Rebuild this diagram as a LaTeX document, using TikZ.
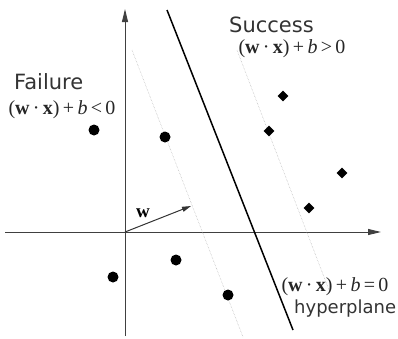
\documentclass[tikz,border=0pt]{standalone}
\usepackage{fontspec}
\setsansfont{DejaVu Sans}
\newfontfamily\rulefont{Liberation Serif}
\usetikzlibrary{shapes.geometric,arrows.meta}

\newcommand{\wx}[2]{(\textbf{w}\,·\,\textbf{x})\,+\,\textit{b}\,#1\,#2}

\tikzset{
  dot/.style={circle, fill=black, inner sep=0pt, minimum size=11pt},
  gem/.style={diamond, fill=black, inner sep=0pt, minimum size=11pt},
  margin/.style={gray!60, line width=0.5pt, densely dotted},
  axis/.style={line width=1pt, black!75, -{Triangle[length=13pt,width=6pt]}},
  word/.style={font=\sffamily\fontsize{21}{24}\selectfont, text=black!80, inner sep=0pt, anchor=base west},
  rule/.style={font=\rulefont\fontsize{20}{22}\selectfont, text=black!85, inner sep=0pt}
}

\begin{document}
\begin{tikzpicture}[x=1pt, y=-1pt]
    \useasboundingbox (0,0) rectangle (398,338);
    % Axes
    \coordinate (O) at (125,232);
    \coordinate (xl) at (5,232);
    \coordinate (xr) at (381,232);
    \coordinate (yb) at (125,336);
    \coordinate (yt) at (125,9);
    \draw[axis] (xl) -- (xr);
    \draw[axis] (yb) -- (yt);
    % Margins and hyperplane
    \coordinate (m1a) at (132,50);
    \coordinate (m1b) at (243,337);
    \coordinate (m2a) at (237,50);
    \coordinate (m2b) at (329,290);
    \draw[margin] (m1a) -- (m1b);
    \draw[margin] (m2a) -- (m2b);
    \coordinate (h1) at (167,10);
    \coordinate (h2) at (293,330);
    \draw[line width=1.5pt] (h1) -- (h2);
    % Normal vector
    \coordinate (wt) at (191,206);
    \draw[line width=1pt, black!80, -{Triangle[length=9pt,width=5pt]}] (O) -- (wt);
    \node[font=\rulefont\fontsize{19}{22}\selectfont\bfseries] (wlbl) at (143,213) {w};
    % Points
    \foreach \x/\y [count=\i] in {94/130, 165/137, 113/277, 176/260, 228/295}{
        \node[dot] (f\i) at (\x,\y) {};
    }
    \foreach \x/\y [count=\i] in {283/96, 269/131, 342/173, 309/208}{
        \node[gem] (s\i) at (\x,\y) {};
    }
    % Labels
    \node[word] (fail) at (14,89) {Failure};
    \node[rule] (failrule) at (62,110) {\wx{<}{0}};
    \node[word] (succ) at (229,32) {Success};
    \node[rule] (succrule) at (292,49) {\wx{>}{0}};
    \node[rule] (hrule) at (335,287) {\wx{=}{0}};
    \node[word, font=\sffamily\fontsize{18}{22}\selectfont] (hname) at (294,313) {hyperplane};
\end{tikzpicture}
\end{document}
